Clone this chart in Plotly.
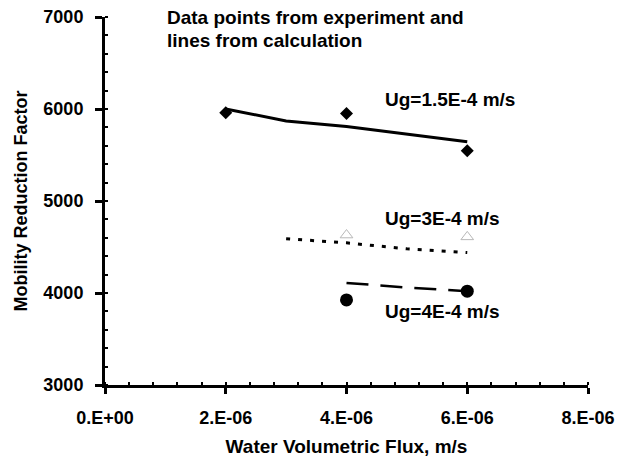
import plotly.graph_objects as go

# Experimental data points
flux_15 = [2e-6, 4e-6, 6e-6]
mrf_15 = [5960, 5950, 5545]
flux_3 = [4e-6, 6e-6]
mrf_3 = [4630, 4610]
flux_4 = [4e-6, 6e-6]
mrf_4 = [3925, 4020]

# Calculated lines
calc_flux_15 = [2e-6, 3e-6, 4e-6, 5e-6, 6e-6]
calc_mrf_15 = [6000, 5870, 5810, 5730, 5645]
calc_flux_3 = [3e-6, 4e-6, 5e-6, 6e-6]
calc_mrf_3 = [4590, 4545, 4480, 4440]
calc_flux_4 = [4e-6, 5e-6, 6e-6]
calc_mrf_4 = [4110, 4060, 4020]

x_tickvals = [0, 2e-6, 4e-6, 6e-6, 8e-6]
x_ticktext = ["0.E+00", "2.E-06", "4.E-06", "6.E-06", "8.E-06"]
y_tickvals = [3000, 4000, 5000, 6000, 7000]

FONT = "Liberation Sans, Arial, sans-serif"

fig = go.Figure()

fig.add_trace(go.Scatter(x=calc_flux_15, y=calc_mrf_15, mode="lines",
                         line=dict(color="black", width=3), showlegend=False))
fig.add_trace(go.Scatter(x=calc_flux_3, y=calc_mrf_3, mode="lines",
                         line=dict(color="black", width=3, dash="4px,8px"), showlegend=False))
fig.add_trace(go.Scatter(x=calc_flux_4, y=calc_mrf_4, mode="lines",
                         line=dict(color="black", width=2.5, dash="22px,12px"), showlegend=False))

fig.add_trace(go.Scatter(x=flux_15, y=mrf_15, mode="markers",
                         marker=dict(symbol="diamond", color="black", size=10), showlegend=False))
fig.add_trace(go.Scatter(x=flux_3, y=mrf_3, mode="markers",
                         marker=dict(symbol="triangle-up-open", color="#b8b8b8", size=11,
                                     line=dict(width=1)), showlegend=False))
fig.add_trace(go.Scatter(x=flux_4, y=mrf_4, mode="markers",
                         marker=dict(symbol="circle", color="black", size=13), showlegend=False))

tfont = dict(family=FONT, size=18, color="black", weight="bold")

fig.update_layout(
    width=629, height=461,
    margin=dict(l=105, r=41, t=17, b=76),
    paper_bgcolor="white", plot_bgcolor="white",
    font=dict(family=FONT, color="black"),
    xaxis=dict(range=[0, 8e-6], tickvals=x_tickvals, ticktext=x_ticktext, automargin=False,
               showgrid=False, zeroline=False, showline=True, linecolor="black", linewidth=3,
               ticks="outside", ticklen=6, tickwidth=3, tickcolor="black",
               ticklabelstandoff=8, tickfont=tfont,
               minor=dict(dtick=4e-7, ticks="inside", ticklen=3, tickwidth=2, tickcolor="black"),
               title=dict(text="Water Volumetric Flux, m/s", standoff=14,
                          font=dict(family=FONT, size=19, color="black", weight="bold"))),
    yaxis=dict(range=[3000, 7000], tickvals=y_tickvals, automargin=False,
               showgrid=False, zeroline=False, showline=True, linecolor="black", linewidth=3,
               ticks="outside", ticklen=7, tickwidth=3, tickcolor="black",
               ticklabelstandoff=8, tickfont=tfont,
               minor=dict(dtick=200, ticks="inside", ticklen=3, tickwidth=2, tickcolor="black"),
               title=dict(text="Mobility Reduction Factor", standoff=12,
                          font=dict(family=FONT, size=18, color="black", weight="bold"))),
)

afont = dict(family=FONT, size=19, color="black", weight="bold")
fig.add_annotation(x=1.0e-6, y=7000, text="Data points from experiment and", showarrow=False,
                   xanchor="left", yanchor="middle", font=afont)
fig.add_annotation(x=1.0e-6, y=6740, text="lines from calculation", showarrow=False,
                   xanchor="left", yanchor="middle", font=afont)
fig.add_annotation(x=4.6e-6, y=6100, text="Ug=1.5E-4 m/s", showarrow=False,
                   xanchor="left", yanchor="middle", font=afont)
fig.add_annotation(x=4.6e-6, y=4815, text="Ug=3E-4 m/s", showarrow=False,
                   xanchor="left", yanchor="middle", font=afont)
fig.add_annotation(x=4.6e-6, y=3795, text="Ug=4E-4 m/s", showarrow=False,
                   xanchor="left", yanchor="middle", font=afont)

fig.write_html("out.html")
